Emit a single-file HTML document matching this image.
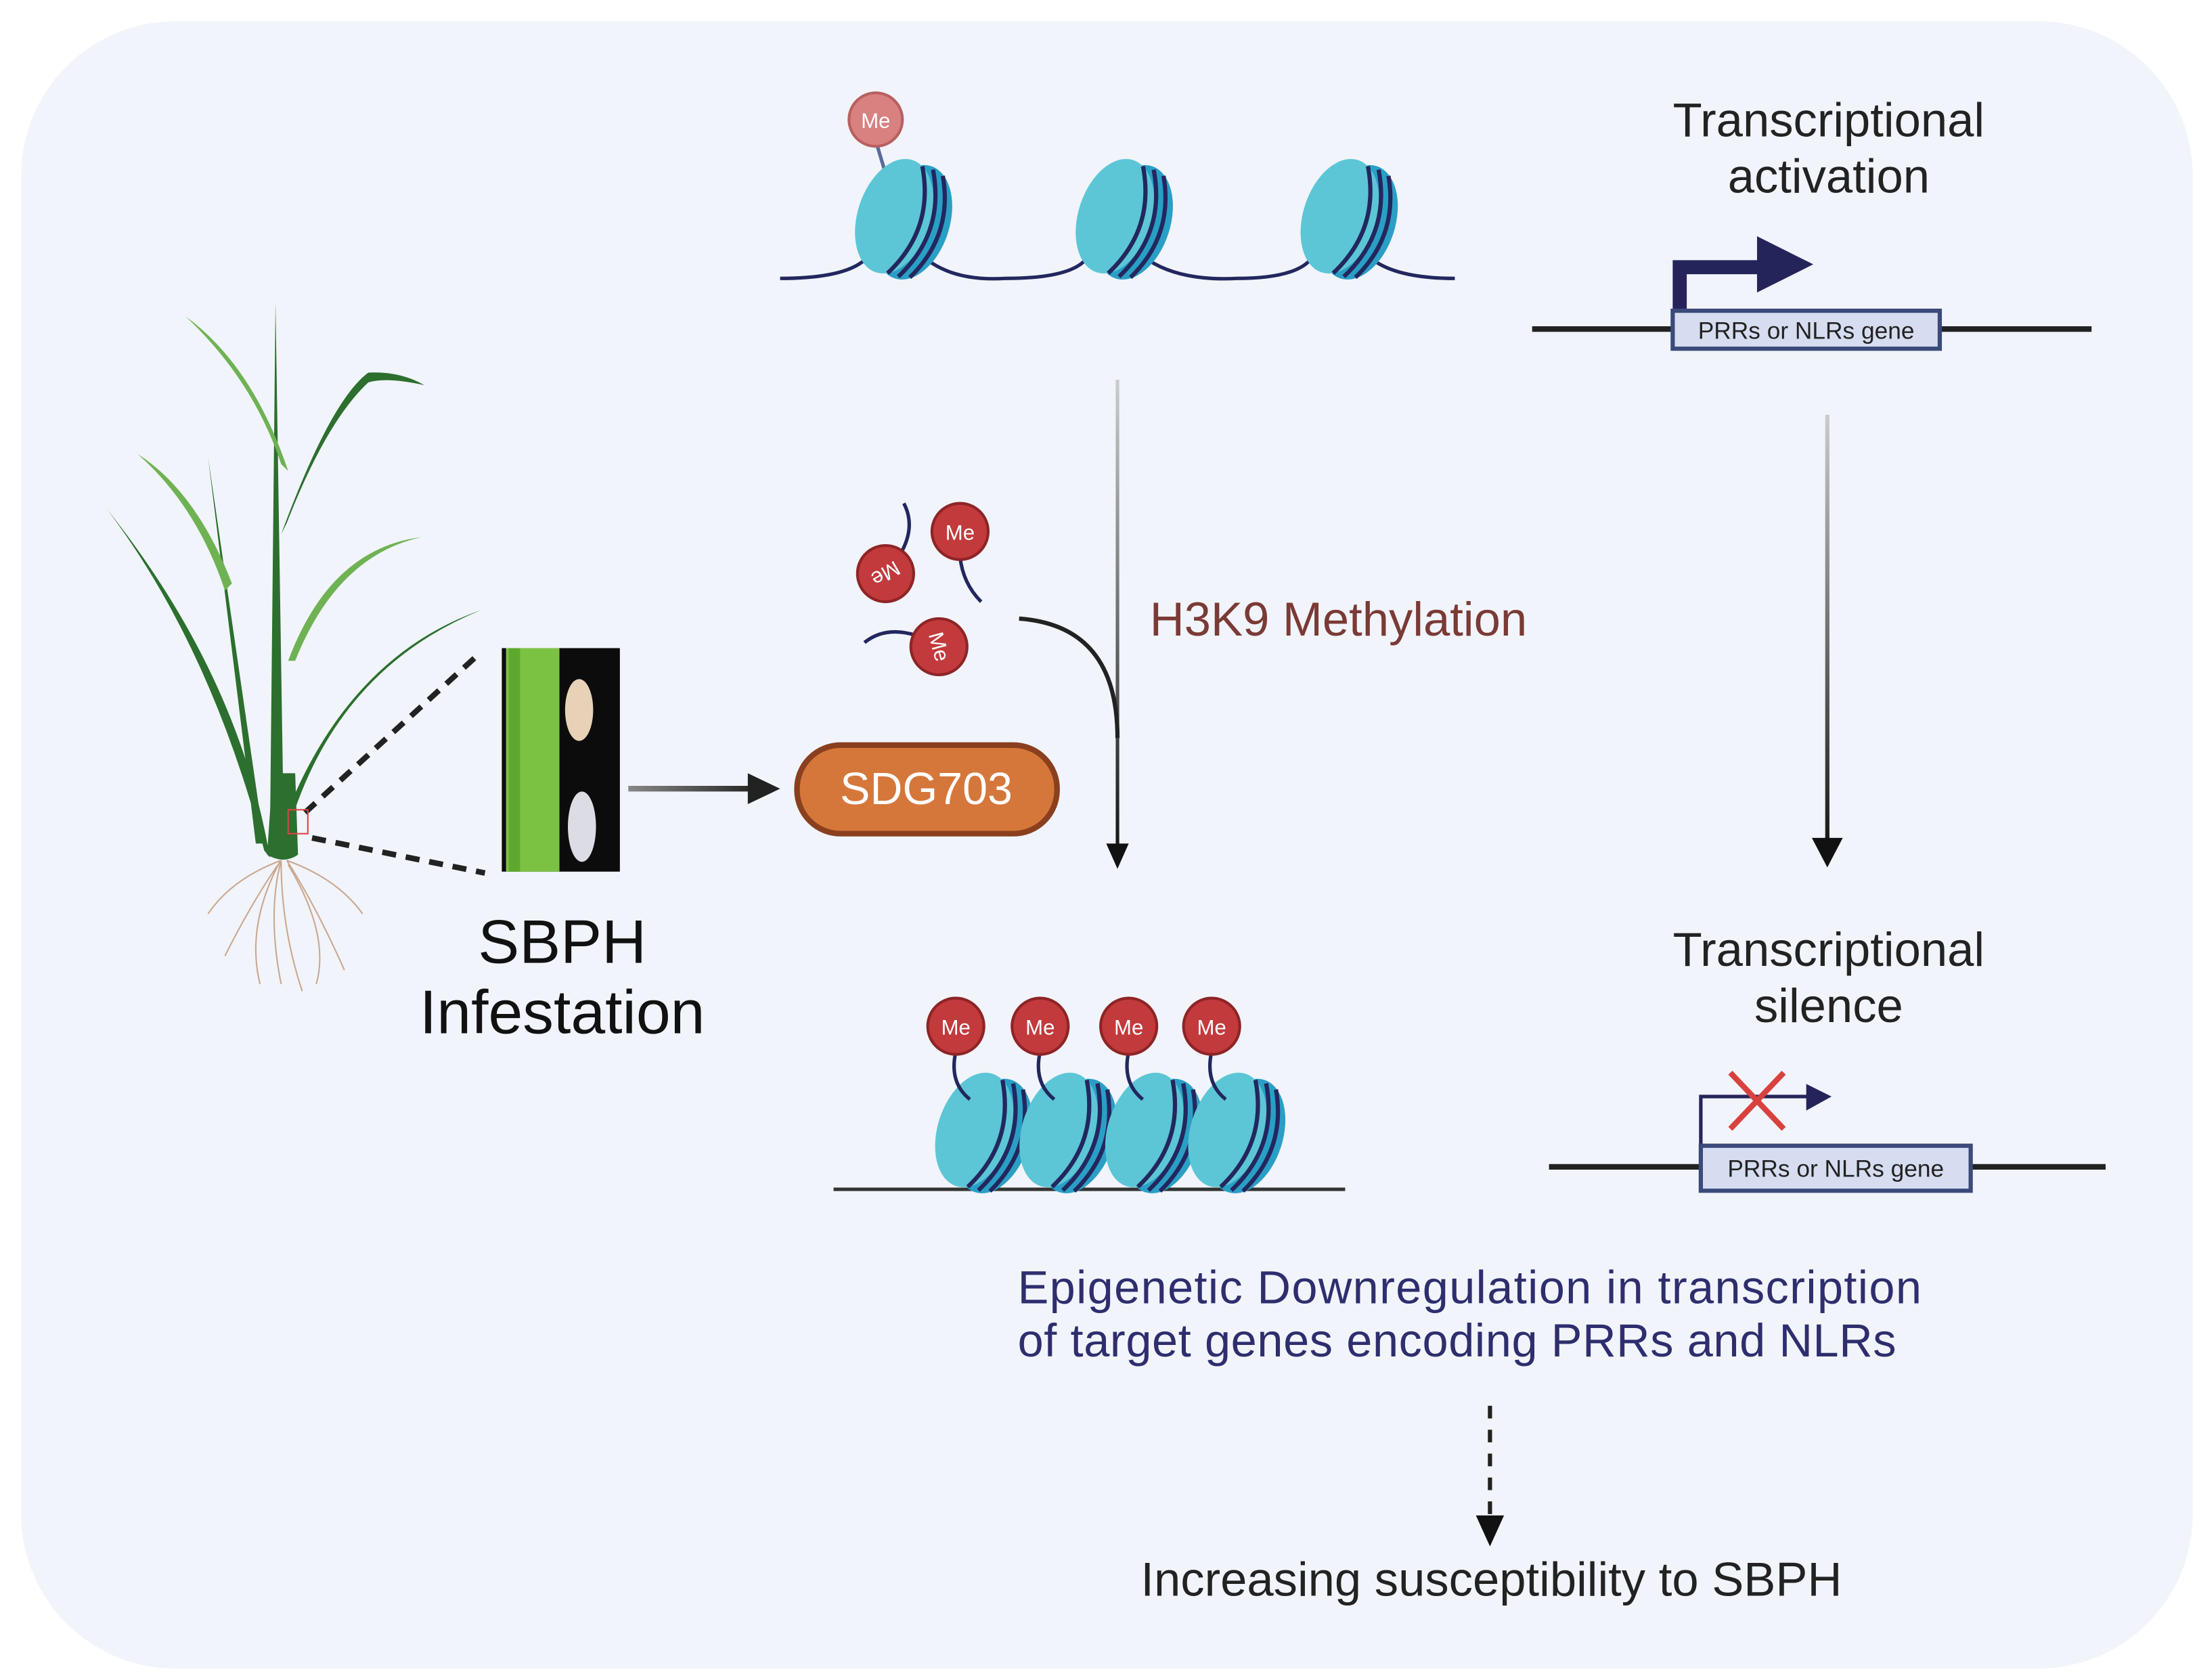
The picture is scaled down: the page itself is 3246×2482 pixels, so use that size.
<!DOCTYPE html>
<html><head><meta charset="utf-8"><style>
html,body{margin:0;padding:0;background:#fff;}
svg{display:block;}
text{font-family:"Liberation Sans",sans-serif;}
</style></head><body>
<svg width="3246" height="2482" viewBox="0 0 1563 1195" xmlns="http://www.w3.org/2000/svg">
<defs>
<g id="nuc">
  <g transform="rotate(18)">
    <ellipse cx="10" cy="0" rx="26" ry="42" fill="#2a9fc6"/>
    <ellipse cx="-4" cy="0" rx="26" ry="42" fill="#5cc6d6"/>
    <path d="M4,-40 Q26,0 4,40" fill="none" stroke="#23275e" stroke-width="3"/>
    <path d="M12,-40 Q34,0 12,40" fill="none" stroke="#23275e" stroke-width="3"/>
    <path d="M20,-38 Q40,0 20,38" fill="none" stroke="#23275e" stroke-width="3"/>
  </g>
</g>
<linearGradient id="vg1" gradientUnits="userSpaceOnUse" x1="0" y1="270" x2="0" y2="610"><stop offset="0" stop-color="#ccc"/><stop offset="1" stop-color="#111"/></linearGradient>
<linearGradient id="vg2" gradientUnits="userSpaceOnUse" x1="0" y1="295" x2="0" y2="610"><stop offset="0" stop-color="#ccc"/><stop offset="1" stop-color="#111"/></linearGradient>
<linearGradient id="hg" gradientUnits="userSpaceOnUse" x1="447" y1="0" x2="540" y2="0"><stop offset="0" stop-color="#888"/><stop offset="1" stop-color="#222"/></linearGradient>
</defs>
<rect x="15" y="15" width="1545" height="1172" rx="110" fill="#f1f4fa"/>

<path d="M555,198 Q600,198 615,185 M660,185 Q680,200 715,198 Q760,198 772,185 M817,185 Q840,200 880,198 Q920,198 932,185 M977,185 Q995,198 1035,198" fill="none" stroke="#23275e" stroke-width="2.5"/>
<line x1="623" y1="100" x2="632" y2="130" stroke="#5a6a9a" stroke-width="2.5"/>
<use href="#nuc" x="640" y="155"/>
<use href="#nuc" x="797" y="155"/>
<use href="#nuc" x="957" y="155"/>
<circle cx="623" cy="85" r="19" fill="#d98080" stroke="#b86060" stroke-width="2"/>
<text x="623" y="91" font-size="15" fill="#fff" text-anchor="middle">Me</text>

<text x="1301" y="97" font-size="34" fill="#222" text-anchor="middle">Transcriptional</text>
<text x="1301" y="137" font-size="34" fill="#222" text-anchor="middle">activation</text>
<line x1="1090" y1="234" x2="1488" y2="234" stroke="#222" stroke-width="4"/>
<path d="M1195,222 V190 H1255" fill="none" stroke="#25245a" stroke-width="10"/>
<polygon points="1250,168 1290,188 1250,208" fill="#25245a"/>
<rect x="1190" y="221" width="190" height="27" fill="#d6ddf0" stroke="#3b4a7a" stroke-width="3"/>
<text x="1285" y="241" font-size="17" fill="#222" text-anchor="middle">PRRs or NLRs gene</text>

<line x1="795" y1="270" x2="795" y2="605" stroke="url(#vg1)" stroke-width="2.5"/>
<polygon points="787,600 803,600 795,618" fill="#111"/>
<path d="M725,440 Q795,445 795,525" fill="none" stroke="#222" stroke-width="3"/>
<text x="818" y="452" font-size="34" fill="#7a3a35">H3K9 Methylation</text>
<line x1="1300" y1="295" x2="1300" y2="600" stroke="url(#vg2)" stroke-width="3"/>
<polygon points="1289,596 1311,596 1300,617" fill="#111"/>

<g fill="none" stroke="#23275e" stroke-width="2.5">
<path d="M643,358 Q652,375 640,395"/><path d="M683,396 Q685,415 698,428"/><path d="M615,457 Q630,445 652,452"/>
</g>
<g fill="#c23a3c" stroke="#8e2426" stroke-width="2">
<circle cx="683" cy="378" r="20"/><circle cx="630" cy="408" r="20"/><circle cx="668" cy="460" r="20"/>
</g>
<text x="683" y="384" font-size="15" fill="#fff" text-anchor="middle">Me</text>
<text transform="translate(630,408) rotate(150)" y="5" font-size="15" fill="#fff" text-anchor="middle">Me</text>
<text transform="translate(668,460) rotate(75)" y="5" font-size="15" fill="#fff" text-anchor="middle">Me</text>

<rect x="567" y="530" width="185" height="63" rx="31" fill="#d5773a" stroke="#8a3f1e" stroke-width="4"/>
<text x="659" y="572" font-size="32" fill="#fff" text-anchor="middle">SDG703</text>
<line x1="447" y1="561" x2="535" y2="561" stroke="url(#hg)" stroke-width="4"/>
<polygon points="532,550 555,561 532,572" fill="#222"/>

<rect x="357" y="461" width="84" height="159" fill="#0c0c0c"/>
<rect x="360" y="461" width="38" height="159" fill="#7cc242"/>
<rect x="362" y="461" width="8" height="159" fill="#5ea830"/>
<ellipse cx="412" cy="505" rx="10" ry="22" fill="#e7d2b8"/>
<ellipse cx="414" cy="588" rx="10" ry="25" fill="#dcdce4"/>

<line x1="217" y1="578" x2="342" y2="464" stroke="#222" stroke-width="4" stroke-dasharray="10,7"/>
<line x1="222" y1="596" x2="345" y2="621" stroke="#222" stroke-width="4" stroke-dasharray="10,7"/>

<g fill="#2c6f2e">
<path d="M196,215 L202,600 L192,600 Z"/>
<path d="M192,610 Q170,480 76,362 Q150,460 188,605 Z"/>
<path d="M200,610 Q230,480 342,434 Q240,470 196,600 Z"/>
<path d="M200,380 Q235,285 262,265 Q285,264 302,274 Q275,268 262,272 Q232,300 204,372 Z"/>
<path d="M148,325 L188,600 L182,600 Z"/>
</g>
<g fill="#6fb254">
<path d="M200,330 Q180,270 132,225 Q180,260 205,335 Z"/>
<path d="M205,470 Q235,390 300,382 Q240,395 210,470 Z"/>
<path d="M160,420 Q140,360 98,323 Q140,350 165,415 Z"/>
</g>
<path d="M190,608 L194,550 L210,550 L212,608 Q202,615 190,608 Z" fill="#2c6f2e"/>
<rect x="205" y="576" width="14" height="17" fill="none" stroke="#d44" stroke-width="1"/>
<g stroke="#c9a890" stroke-width="1" fill="none">
<path d="M200,612 Q180,640 160,680"/><path d="M200,612 Q190,650 200,700"/><path d="M204,612 Q225,645 245,690"/>
<path d="M200,612 Q165,625 148,650"/><path d="M204,612 Q240,625 258,650"/><path d="M200,612 Q200,660 215,705"/>
<path d="M198,615 Q175,660 185,700"/><path d="M205,615 Q235,665 225,700"/>
</g>
<text x="400" y="685" font-size="44" fill="#111" text-anchor="middle">SBPH</text>
<text x="400" y="735" font-size="44" fill="#111" text-anchor="middle">Infestation</text>

<line x1="593" y1="846" x2="957" y2="846" stroke="#333" stroke-width="2.5"/>
<use href="#nuc" x="697" y="805"/>
<use href="#nuc" x="757" y="805"/>
<use href="#nuc" x="818" y="805"/>
<use href="#nuc" x="877" y="805"/>
<g fill="none" stroke="#23275e" stroke-width="2.5">
<path d="M680,748 Q675,770 690,782"/><path d="M740,748 Q735,770 750,782"/><path d="M803,748 Q798,770 813,782"/><path d="M862,748 Q857,770 872,782"/>
</g>
<g fill="#c23a3c" stroke="#8e2426" stroke-width="2">
<circle cx="680" cy="730" r="20"/><circle cx="740" cy="730" r="20"/><circle cx="803" cy="730" r="20"/><circle cx="862" cy="730" r="20"/>
</g>
<g font-size="15" fill="#fff" text-anchor="middle">
<text x="680" y="736">Me</text><text x="740" y="736">Me</text><text x="803" y="736">Me</text><text x="862" y="736">Me</text>
</g>

<text x="1301" y="687" font-size="34" fill="#222" text-anchor="middle">Transcriptional</text>
<text x="1301" y="727" font-size="34" fill="#222" text-anchor="middle">silence</text>
<line x1="1102" y1="830" x2="1498" y2="830" stroke="#222" stroke-width="4"/>
<path d="M1210,816 V780 H1290" fill="none" stroke="#25245a" stroke-width="2.5"/>
<polygon points="1285,771 1303,780 1285,790" fill="#25245a"/>
<path d="M1231,763 L1269,803 M1269,763 L1231,803" stroke="#d9413f" stroke-width="4"/>
<rect x="1210" y="815" width="192" height="32" fill="#d6ddf0" stroke="#3b4a7a" stroke-width="3"/>
<text x="1306" y="837" font-size="17" fill="#222" text-anchor="middle">PRRs or NLRs gene</text>

<text x="724" y="927" font-size="33" fill="#2e2e6e" textLength="643">Epigenetic Downregulation in transcription</text>
<text x="724" y="965" font-size="33" fill="#2e2e6e" textLength="625">of target genes encoding PRRs and NLRs</text>
<line x1="1060" y1="1000" x2="1060" y2="1080" stroke="#222" stroke-width="3" stroke-dasharray="9,8"/>
<polygon points="1050,1078 1070,1078 1060,1100" fill="#111"/>
<text x="1061" y="1135" font-size="34" fill="#222" text-anchor="middle">Increasing susceptibility to SBPH</text>
</svg>
</body></html>
